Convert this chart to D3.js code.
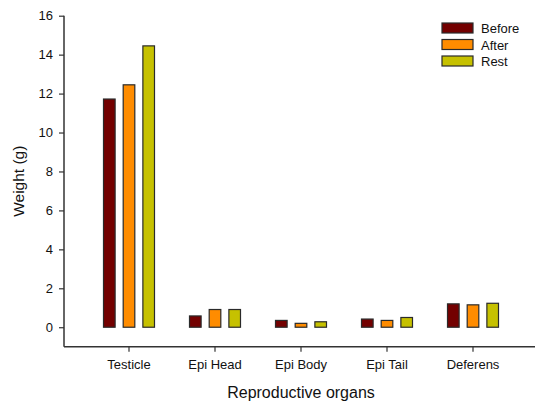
<!DOCTYPE html>
<html>
<head>
<meta charset="utf-8">
<script src="https://cdn.jsdelivr.net/npm/d3@7"></script>
<style>
html,body{margin:0;padding:0;background:#fff;}
svg{display:block;font-family:"Liberation Sans",Arial,sans-serif;}
</style>
</head>
<body>
<svg id="chart" width="535" height="405"></svg>
<script>
const categories = ["Testicle", "Epi Head", "Epi Body", "Epi Tail", "Deferens"];
const seriesNames = ["Before", "After", "Rest"];
const before = [11.72, 0.58, 0.35, 0.42, 1.2];
const after = [12.45, 0.91, 0.2, 0.35, 1.15];
const rest = [14.45, 0.91, 0.28, 0.5, 1.23];
const yTicks = [0, 2, 4, 6, 8, 10, 12, 14, 16];
const colors = ["#730000", "#ff8c00", "#c6c100"];

const seriesValues = [before, after, rest];
const svg = d3.select("#chart");

const y = d3.scaleLinear().domain([-1, 16]).range([346.7, 15.7]);
const x = d3.scaleBand().domain(categories).range([86, 516]).paddingInner(0).paddingOuter(0);
const xs = d3.scaleBand().domain(seriesNames).range([-25.5, 25.5]).paddingInner(0.41).paddingOuter(0);

const axisColor = "#333";

// bars
categories.forEach((c, i) => {
  const cx = x(c) + x.bandwidth() / 2;
  seriesNames.forEach((s, j) => {
    const v = seriesValues[j][i];
    svg.append("rect")
      .attr("x", cx + xs(s))
      .attr("width", xs.bandwidth())
      .attr("y", y(v))
      .attr("height", y(0) - y(v))
      .attr("fill", colors[j])
      .attr("stroke", "#2a2a2a")
      .attr("stroke-width", 1.2);
  });
});

// y axis
const yAxis = d3.axisLeft(y).tickValues(yTicks).tickSize(5).tickPadding(6).tickFormat(d3.format("d"));
const gy = svg.append("g").attr("transform", "translate(64,0)").call(yAxis);
gy.select(".domain").attr("d", `M0,${y(16)}V${y(-1)}`).attr("stroke", axisColor).attr("stroke-width", 1.5);
gy.selectAll(".tick line").attr("stroke", axisColor).attr("stroke-width", 1.2);
gy.selectAll(".tick text").attr("font-size", 13).attr("fill", "#111").attr("font-family", "Liberation Sans, Arial, sans-serif");

// x axis
const xAxis = d3.axisBottom(x).tickSize(5).tickPadding(8);
const gx = svg.append("g").attr("transform", `translate(0,${y(-1)})`).call(xAxis);
gx.select(".domain").attr("d", "M64,0H535").attr("stroke", axisColor).attr("stroke-width", 1.5);
gx.selectAll(".tick line").attr("stroke", axisColor).attr("stroke-width", 1.2);
gx.selectAll(".tick text").attr("font-size", 13).attr("fill", "#111").attr("font-family", "Liberation Sans, Arial, sans-serif");

// axis titles
svg.append("text")
  .attr("transform", `translate(24,${(y(16) + y(-1)) / 2}) rotate(-90)`)
  .attr("text-anchor", "middle")
  .attr("font-size", 15.5)
  .attr("fill", "#111")
  .text("Weight (g)");

svg.append("text")
  .attr("x", x("Epi Body") + x.bandwidth() / 2)
  .attr("y", 397.5)
  .attr("text-anchor", "middle")
  .attr("font-size", 16)
  .attr("fill", "#111")
  .text("Reproductive organs");

// legend
const lg = svg.append("g").attr("transform", "translate(442,23)");
seriesNames.forEach((s, j) => {
  const row = lg.append("g").attr("transform", `translate(0,${j * 16.5})`);
  row.append("rect").attr("width", 31).attr("height", 10)
    .attr("fill", colors[j]).attr("stroke", "#2a2a2a").attr("stroke-width", 1.2);
  row.append("text").attr("x", 39).attr("y", 10).attr("font-size", 13).attr("fill", "#111").text(s);
});
</script>
</body>
</html>
